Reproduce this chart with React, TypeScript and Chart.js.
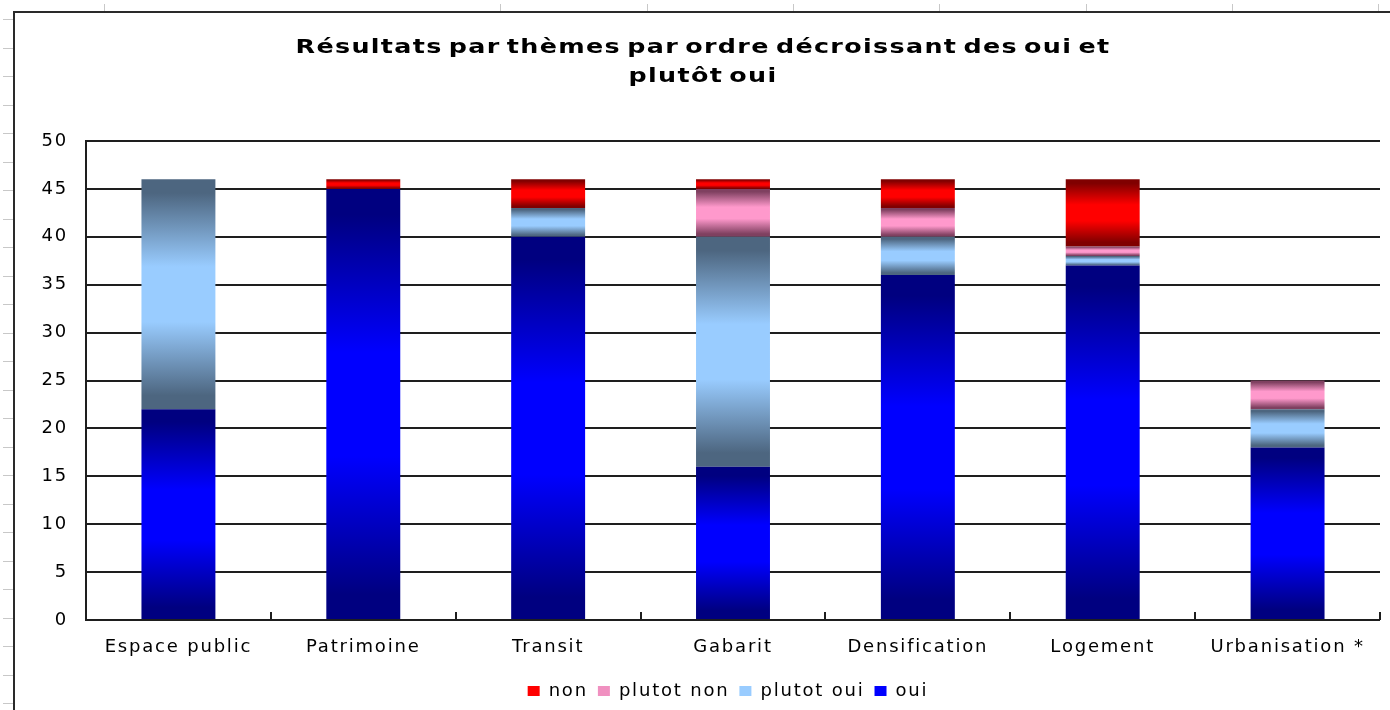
import React, { useEffect, useRef } from 'react';
import { Chart, registerables } from 'chart.js';

Chart.register(...registerables);

// ---- data ----
const CATEGORIES = ['Espace public', 'Patrimoine', 'Transit', 'Gabarit', 'Densification', 'Logement', 'Urbanisation *'];
const OUI = [22, 45, 40, 16, 36, 37, 18];
const PLUTOT_OUI = [24, 0, 3, 24, 4, 1, 4];
const PLUTOT_NON = [0, 0, 0, 5, 3, 1, 3];
const NON = [0, 1, 3, 1, 3, 7, 0];
const SERIES_LABELS = ['oui', 'plutot oui', 'plutot non', 'non'];
const Y_MIN = 0;
const Y_MAX = 50;
const Y_STEP = 5;
const TITLE = ['Résultats par thèmes par ordre décroissant des oui et', 'plutôt oui'];

// ---- styles ----
const SERIES = [OUI, PLUTOT_OUI, PLUTOT_NON, NON];
const DARK = ['#000080', '#4d6680', '#7f4060', '#800000'];
const BRIGHT = ['#0000ff', '#99ccff', '#ff99cc', '#ff0000'];
const LEGEND_COLORS = ['#0000ff', '#99ccff', '#f090c0', '#ff0000'];
const FONT = '"DejaVu Sans", Verdana, sans-serif';
const LETTER_SPACING = '1.8px';

function segmentFill(d: number) {
  return (ctx: any) => {
    if (ctx.type !== 'data') return BRIGHT[d];
    const chart = ctx.chart;
    const y = chart.scales && chart.scales.y;
    if (!y) return BRIGHT[d];
    const i = ctx.dataIndex;
    let base = 0;
    for (let k = 0; k < d; k++) base += SERIES[k][i];
    const top = base + SERIES[d][i];
    const y0 = y.getPixelForValue(base);
    const y1 = y.getPixelForValue(top);
    if (!isFinite(y0) || !isFinite(y1) || Math.abs(y0 - y1) < 1) return BRIGHT[d];
    const g = chart.ctx.createLinearGradient(0, y1, 0, y0);
    g.addColorStop(0, DARK[d]);
    g.addColorStop(0.06, DARK[d]);
    g.addColorStop(0.38, BRIGHT[d]);
    g.addColorStop(0.62, BRIGHT[d]);
    g.addColorStop(0.94, DARK[d]);
    g.addColorStop(1, DARK[d]);
    return g;
  };
}

const spacingPlugin = {
  id: 'spacing',
  beforeLayout(chart: any) {
    chart.ctx.letterSpacing = LETTER_SPACING;
  },
  afterLayout(chart: any) {
    // centre the legend under the whole chart frame rather than the canvas
    if (chart.legend) chart.legend.left = 76;
  },
  beforeDraw(chart: any) {
    chart.ctx.letterSpacing = LETTER_SPACING;
  },
};

const decoPlugin = {
  id: 'deco',
  afterDraw(chart: any) {
    const ctx = chart.ctx;
    ctx.save();
    // spreadsheet grid remnants
    ctx.strokeStyle = '#c8c8c8';
    ctx.lineWidth = 1;
    [104, 500, 647, 793, 939, 1086, 1232, 1378].forEach((x) => {
      ctx.beginPath();
      ctx.moveTo(x + 0.5, 4);
      ctx.lineTo(x + 0.5, 11);
      ctx.stroke();
    });
    for (let y = 19; y < 710; y += 28.5) {
      ctx.beginPath();
      ctx.moveTo(3, Math.round(y) + 0.5);
      ctx.lineTo(13, Math.round(y) + 0.5);
      ctx.stroke();
    }
    // outer chart border
    ctx.strokeStyle = '#2a2a2a';
    ctx.lineWidth = 2;
    ctx.beginPath();
    ctx.moveTo(14, 710);
    ctx.lineTo(14, 12);
    ctx.lineTo(1390, 12);
    ctx.stroke();

    // inward category boundary ticks on the x axis
    const xs = chart.scales.x;
    const bottom = chart.chartArea.bottom;
    ctx.strokeStyle = '#1e1e1e';
    ctx.lineWidth = 2;
    for (let i = 0; i <= CATEGORIES.length; i++) {
      const x = Math.round(xs.getPixelForValue(i - 0.5));
      ctx.beginPath();
      ctx.moveTo(x, bottom);
      ctx.lineTo(x, bottom - 8);
      ctx.stroke();
    }

    // title (wide, slightly stretched bold face like the original)
    ctx.fillStyle = '#000';
    ctx.font = 'bold 19px "DejaVu Sans", sans-serif';
    ctx.textAlign = 'center';
    ctx.textBaseline = 'alphabetic';
    ctx.wordSpacing = '-3px';
    ctx.letterSpacing = '1px';
    const w = ctx.measureText(TITLE[0]).width;
    const sx = 815 / w;
    ctx.translate(703, 0);
    ctx.scale(sx, 1);
    ctx.fillText(TITLE[0], 0, 53);
    ctx.fillText(TITLE[1], 0, 82);
    ctx.restore();
  },
};

export default function App() {
  const ref = useRef<HTMLCanvasElement | null>(null);

  useEffect(() => {
    if (!ref.current) return;
    const chart = new Chart(ref.current, {
      type: 'bar',
      data: {
        labels: CATEGORIES,
        datasets: SERIES.map((vals, d) => ({
          label: SERIES_LABELS[d],
          data: vals,
          backgroundColor: segmentFill(d),
          borderWidth: 0,
          barPercentage: 0.4,
          categoryPercentage: 1,
        })),
      },
      options: {
        responsive: false,
        animation: false,
        layout: { padding: { top: 141, left: 0, right: 10, bottom: 0 } },
        plugins: {
          title: { display: false },
          tooltip: { enabled: false },
          legend: {
            position: 'bottom',
            reverse: true,
            labels: {
              boxWidth: 12,
              boxHeight: 10,
              padding: 10,
              color: '#000',
              font: { family: FONT, size: 18 },
              generateLabels: (chart: any) =>
                chart.data.datasets.map((ds: any, i: number) => ({
                  text: ds.label,
                  fillStyle: LEGEND_COLORS[i],
                  strokeStyle: LEGEND_COLORS[i],
                  lineWidth: 0,
                  hidden: false,
                  datasetIndex: i,
                })),
            },
          },
        },
        scales: {
          x: {
            stacked: true,
            offset: true,
            grid: { display: false, drawTicks: false },
            border: { display: false },
            ticks: { color: '#000', font: { family: FONT, size: 18 }, padding: 17, maxRotation: 0, autoSkip: false },
            afterFit: (s: any) => {
              s.height = 52;
            },
          },
          y: {
            stacked: true,
            min: Y_MIN,
            max: Y_MAX,
            grid: { color: '#1e1e1e', lineWidth: 2, drawTicks: false },
            border: { display: true, color: '#1e1e1e', width: 2 },
            ticks: { stepSize: Y_STEP, color: '#000', font: { family: FONT, size: 18 }, padding: 18 },
            afterFit: (s: any) => {
              s.width = 86;
            },
          },
        },
      },
      plugins: [spacingPlugin, decoPlugin],
    });
    return () => chart.destroy();
  }, []);

  return (
    <div style={{ position: 'absolute', left: 0, top: 0, width: 1390, height: 710, background: '#fff' }}>
      <canvas ref={ref} width={1390} height={710} style={{ display: 'block' }} />
    </div>
  );
}
